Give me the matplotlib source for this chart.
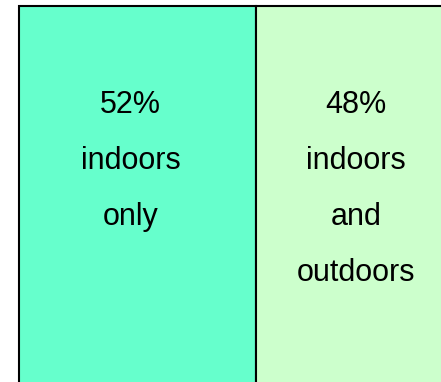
import matplotlib
matplotlib.use("Agg")
import matplotlib.pyplot as plt

# share of time spent, by where
shares = [52, 48]
pct_labels = ["52%", "48%"]
place_labels = [["indoors", "only"], ["indoors", "and", "outdoors"]]
colors = ["#66FFCC", "#CCFFCC"]

plt.rcParams["font.family"] = ["Liberation Sans", "DejaVu Sans"]

W, H = 441, 382
fig = plt.figure(figsize=(W / 100, H / 100), dpi=100)

# the stacked bar runs off the right and bottom edges of the figure
left_px, top_px = 18.5, 6.5
px_per_unit = (256 - left_px) / 52
ax_w = 100 * px_per_unit
ax_h = H + 20 - top_px
ax = fig.add_axes([left_px / W, (H - top_px - ax_h) / H, ax_w / W, ax_h / H])
ax.set_xlim(0, 100)
ax.set_ylim(0, 1)
ax.axis("off")

# labels sit a little left of each segment's centre
x_shift = [-6.5, -9.5]

start = 0
for share, pct, words, col, dx in zip(shares, pct_labels, place_labels, colors, x_shift):
    ax.barh(0.5, share, left=start, height=1, color=col,
            edgecolor="black", linewidth=1.5, clip_on=False)
    cx = start + share / 2
    lines = [pct] + words
    for i, line in enumerate(lines):
        ax.annotate(line, xy=(cx, 1), xytext=(dx, -(106.5 + 56 * i)),
                    textcoords="offset pixels", ha="center", va="baseline",
                    fontsize=22, color="black", annotation_clip=False)
    start += share

fig.savefig("out.png", dpi=100)
